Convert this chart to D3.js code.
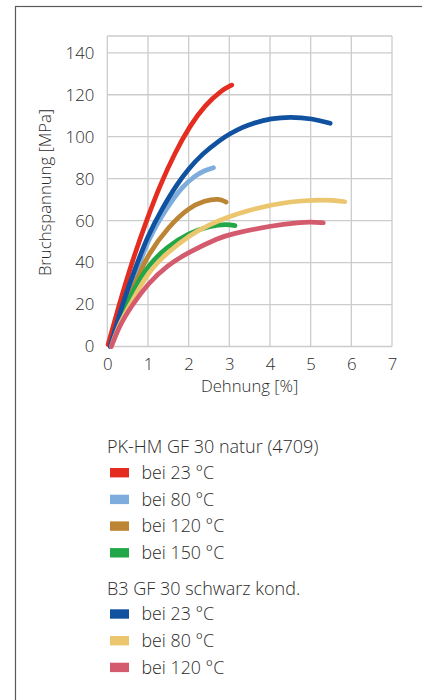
<!DOCTYPE html>
<html>
<head>
<meta charset="utf-8">
<script src="https://cdn.jsdelivr.net/npm/d3@7"></script>
<style>
  html, body { margin: 0; padding: 0; background: #fff; }
  svg { display: block; }
  text { font-family: "Open Sans", "Noto Sans", sans-serif; font-weight: 300; fill: #2b2b2b; }
</style>
</head>
<body>
<svg id="chart" width="422" height="700"></svg>
<script>
// ---------- data ----------
const xTicks = [0, 1, 2, 3, 4, 5, 6, 7];
const yTicks = [0, 20, 40, 60, 80, 100, 120, 140];
const xTitle = "Dehnung [%]";
const yTitle = "Bruchspannung [MPa]";

// PK-HM GF 30 natur (4709)
const pk23  = [[0.02,1],[0.3,20.5],[0.6,40],[1.0,62],[1.3,77],[1.66,92.3],[2.03,105.2],[2.4,115],[2.81,122.2],[3.06,124.6]];
const pk80  = [[0.08,0],[0.38,18],[0.75,37],[1.0,51],[1.46,66],[1.83,76],[2.16,81.5],[2.4,84],[2.61,85.2]];
const pk120 = [[0.08,0],[0.44,18],[0.7,31],[1.0,44],[1.5,57],[2.0,66.2],[2.4,69.6],[2.75,70.6],[2.92,68.8]];
const pk150 = [[0.08,0],[0.42,18],[0.7,29],[1.0,38.5],[1.46,47.5],[2.02,54.2],[2.53,57.5],[2.94,58.3],[3.14,57.6]];
// B3 GF 30 schwarz kond.
const b323  = [[0.07,0],[0.35,19],[0.7,38],[1.0,53],[1.34,65.5],[1.71,77.3],[2.0,84.6],[2.32,91.6],[2.77,98.4],[3.02,101.5],[3.34,104.6],[3.59,106.5],[4.03,108.7],[4.49,109.5],[5.04,108.7],[5.48,106.4]];
const b380  = [[0.1,0],[0.3,11],[0.55,19.5],[1.0,35.5],[1.46,44.5],[2.02,53],[2.5,58],[3.0,62],[3.5,65],[4.03,67.5],[4.5,69],[5.04,69.8],[5.56,69.8],[5.84,69]];
const b3120 = [[0.1,0],[0.3,10],[0.6,19.5],[1.0,30],[1.46,38.5],[2.02,45.2],[2.77,52],[3.02,53.5],[4.03,57.6],[4.74,59.2],[5.0,59.4],[5.31,59]];

const groupTitles = ["PK-HM GF 30 natur (4709)", "B3 GF 30 schwarz kond."];
const seriesLabels = ["bei 23 °C", "bei 80 °C", "bei 120 °C", "bei 150 °C", "bei 23 °C", "bei 80 °C", "bei 120 °C"];
const seriesGroup  = [0, 0, 0, 0, 1, 1, 1];
const seriesData   = [pk23, pk80, pk120, pk150, b323, b380, b3120];

// ---------- styles ----------
const colors = ["#e42d20", "#7eacdc", "#bc8533", "#22a748", "#10529f", "#ecc66e", "#d45a6e"];
const gridColor = "#cccccc";

// ---------- layout ----------
const svg = d3.select("#chart");

// outer frame
svg.append("rect")
  .attr("x", 15.5).attr("y", 6.5)
  .attr("width", 430).attr("height", 720)
  .attr("fill", "none").attr("stroke", "#5a5a5a").attr("stroke-width", 1.2);

const yTop = 148;
const x = d3.scaleLinear().domain([0, 7]).range([107.3, 392]);
const y = d3.scaleLinear().domain([0, yTop]).range([346.5, 36]);

const grid = svg.append("g");
grid.selectAll("line.v").data(xTicks).join("line")
  .attr("x1", d => x(d)).attr("x2", d => x(d))
  .attr("y1", y(0)).attr("y2", y(yTop))
  .attr("stroke", gridColor).attr("stroke-width", 1.3);
grid.selectAll("line.h").data(yTicks.concat([yTop])).join("line")
  .attr("x1", x(0)).attr("x2", x(7))
  .attr("y1", d => y(d)).attr("y2", d => y(d))
  .attr("stroke", gridColor).attr("stroke-width", 1.3);

// axes (labels only, via d3 axes)
const xAxis = svg.append("g").attr("transform", `translate(0,${y(0)})`)
  .call(d3.axisBottom(x).tickValues(xTicks).tickSize(0).tickFormat(d3.format("d")));
const yAxis = svg.append("g").attr("transform", `translate(${x(0)},0)`)
  .call(d3.axisLeft(y).tickValues(yTicks).tickSize(0).tickPadding(13).tickFormat(d3.format("d")));
[xAxis, yAxis].forEach(a => {
  a.select(".domain").remove();
  a.selectAll("text").style("font-size", "16.8px").style("font-family", null).attr("fill", "#2b2b2b");
});
xAxis.selectAll("text").attr("dy", "0").attr("y", 23.5);

// axis titles
svg.append("text")
  .attr("x", (x(0) + x(7)) / 2).attr("y", 392)
  .attr("text-anchor", "middle").style("font-size", "16.7px")
  .text(xTitle);
svg.append("text")
  .attr("transform", `translate(51,${192.5}) rotate(-90)`)
  .attr("text-anchor", "middle").style("font-size", "16.7px")
  .text(yTitle);

// curves
const line = d3.line().x(d => x(d[0])).y(d => y(d[1])).curve(d3.curveBasis);
svg.append("g").selectAll("path").data(seriesData).join("path")
  .attr("d", line)
  .attr("fill", "none")
  .attr("stroke", (d, i) => colors[i])
  .attr("stroke-width", 4.7)
  .attr("stroke-linecap", "round")
  .attr("stroke-linejoin", "round");

// legend
const legend = svg.append("g");
const titleY = [446.7, 589];
const rowStep = 26.7;
groupTitles.forEach((t, g) => {
  legend.append("text")
    .attr("x", 107).attr("y", titleY[g]).attr("dy", "0.35em")
    .style("font-size", "18px").text(t);
  const idx = seriesLabels.map((_, i) => i).filter(i => seriesGroup[i] === g);
  idx.forEach((i, k) => {
    const cy = titleY[g] + rowStep * (k + 1) - (g === 0 ? 0.7 : 1.7);
    legend.append("rect")
      .attr("x", 110).attr("y", cy - 4.7).attr("width", 19).attr("height", 9.4)
      .attr("fill", colors[i]);
    legend.append("text")
      .attr("x", 141.5).attr("y", cy).attr("dy", "0.35em")
      .style("font-size", "17.8px").text(seriesLabels[i]);
  });
});
</script>
</body>
</html>
